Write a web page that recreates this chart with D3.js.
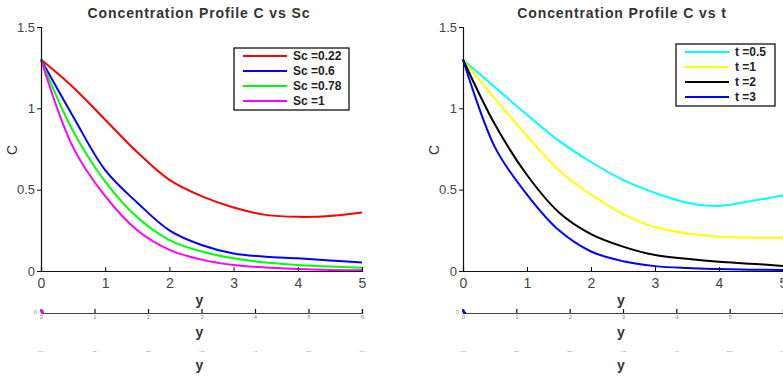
<!DOCTYPE html>
<html>
<head>
<meta charset="utf-8">
<script src="https://cdn.jsdelivr.net/npm/d3@7"></script>
<style>
  body { margin: 0; background: #fff; }
  svg text { font-family: "Liberation Sans", Arial, sans-serif; }
  .title { font-weight: bold; font-size: 14px; fill: #333; letter-spacing: 0.9px; }
  .tick-lbl { font-size: 13px; fill: #444; }
  .leg-text { font-size: 12px; font-weight: bold; fill: #222; }
  .axis-name { font-size: 14px; font-weight: bold; fill: #333; }
</style>
</head>
<body>
<div id="chart"></div>
<script>
// x positions where the curves were read
const yPos = [0, 0.5, 1, 1.5, 2, 2.5, 3, 3.5, 4, 4.5, 5];

// left panel, C vs y for different Sc
const scLabels = ['Sc =0.22', 'Sc =0.6', 'Sc =0.78', 'Sc =1'];
const scColors = ['#ff0000', '#0000ff', '#00ff00', '#ff00ff'];
const sc022 = [1.30, 1.13, 0.93, 0.73, 0.56, 0.46, 0.39, 0.345, 0.333, 0.338, 0.36];
const sc06  = [1.30, 0.95, 0.62, 0.42, 0.25, 0.16, 0.108, 0.088, 0.078, 0.065, 0.052];
const sc078 = [1.30, 0.86, 0.55, 0.33, 0.19, 0.12, 0.078, 0.052, 0.037, 0.027, 0.02];
const sc1   = [1.30, 0.76, 0.46, 0.25, 0.13, 0.07, 0.037, 0.022, 0.012, 0.006, 0.004];

// right panel, C vs y for different t
const tLabels = ['t =0.5', 't =1', 't =2', 't =3'];
const tColors = ['#00ffff', '#ffff00', '#000000', '#0000ff'];
const t05 = [1.30, 1.13, 0.96, 0.80, 0.67, 0.56, 0.48, 0.42, 0.40, 0.43, 0.465];
const t1  = [1.30, 1.06, 0.83, 0.62, 0.47, 0.35, 0.27, 0.23, 0.21, 0.205, 0.205];
const t2  = [1.30, 0.90, 0.59, 0.36, 0.227, 0.15, 0.098, 0.075, 0.057, 0.045, 0.031];
const t3  = [1.30, 0.76, 0.47, 0.25, 0.12, 0.06, 0.03, 0.018, 0.012, 0.008, 0.006];

const xTicks = [0, 1, 2, 3, 4, 5];
const yTicks = [0, 0.5, 1, 1.5];
const subTicks = [0, 1, 2, 3, 4, 5, 6];

const W = 783, H = 376;
const svg = d3.select('#chart').append('svg')
    .attr('width', W)
    .attr('height', H);

function drawPanel(p) {
    let g = svg.append('g');

    let x = d3.scaleLinear().domain([0, 5]).range([p.x0, p.x1]);
    let y = d3.scaleLinear().domain([0, 1.5]).range([271, 27]);

    // title
    g.append('text')
        .attr('class', 'title')
        .attr('x', p.titleX)
        .attr('y', 18)
        .attr('text-anchor', 'middle')
        .text(p.title);

    // curves
    let line = d3.line()
        .x((d, i) => x(yPos[i]))
        .y((d) => y(d))
        .curve(d3.curveCatmullRom.alpha(0.5));

    g.append('g')
        .selectAll('path')
        .data(p.series)
        .enter()
        .append('path')
        .attr('d', (d) => line(d))
        .attr('fill', 'none')
        .attr('stroke', (d, i) => p.colors[i])
        .attr('stroke-width', 2);

    // axes
    let xAxis = d3.axisBottom(x).tickValues(xTicks).tickSize(-4).tickPadding(7).tickFormat(d3.format('d'));
    let ax = g.append('g')
        .attr('transform', 'translate(0,271)')
        .call(xAxis);
    ax.select('.domain').attr('stroke', '#111').attr('stroke-width', 1.2);
    ax.selectAll('.tick line').attr('stroke', '#111');
    ax.selectAll('.tick text').attr('class', 'tick-lbl').style('font-size', '14px').attr('fill', '#444');

    let yAxis = d3.axisLeft(y).tickValues(yTicks).tickSize(4).tickPadding(2).tickFormat((d) => d);
    let ay = g.append('g')
        .attr('transform', 'translate(' + p.x0 + ',0)')
        .call(yAxis);
    ay.select('.domain').attr('stroke', '#111').attr('stroke-width', 1.2);
    ay.selectAll('.tick line').attr('stroke', '#111');
    ay.selectAll('.tick text').attr('class', 'tick-lbl').attr('fill', '#444');

    // axis names
    g.append('text')
        .attr('class', 'axis-name')
        .attr('x', (p.x0 + x(5)) / 2 - 2)
        .attr('y', 305)
        .attr('text-anchor', 'middle')
        .text('y');
    g.append('text')
        .attr('class', 'axis-name')
        .style('font-weight', 'normal')
        .attr('transform', 'translate(' + (p.x0 - 24) + ',150) rotate(-90)')
        .attr('text-anchor', 'middle')
        .text('C');

    // legend
    let leg = g.append('g');
    leg.append('rect')
        .attr('x', p.legX)
        .attr('y', p.legY)
        .attr('width', p.legW)
        .attr('height', 62)
        .attr('fill', '#fff')
        .attr('stroke', '#111')
        .attr('stroke-width', 1.3);
    for (let i = 0; i < p.labels.length; i++) {
        let ly = p.legY + 8 + i * 15;
        leg.append('line')
            .attr('x1', p.legX + 9)
            .attr('x2', p.legX + 53)
            .attr('y1', ly)
            .attr('y2', ly)
            .attr('stroke', p.colors[i])
            .attr('stroke-width', 2);
        leg.append('text')
            .attr('class', 'leg-text')
            .attr('x', p.legX + 59)
            .attr('y', ly + 4)
            .text(p.labels[i]);
    }

    // the squashed second axis under the plot
    let x2 = d3.scaleLinear().domain([0, 6]).range([p.x0, x(5)]);
    let sub = d3.axisBottom(x2).tickValues(subTicks).tickSize(-4).tickPadding(2).tickFormat(d3.format('d'));
    let as = g.append('g')
        .attr('transform', 'translate(0,313)')
        .call(sub);
    as.select('.domain').attr('stroke', '#444').attr('stroke-width', 1.2);
    as.selectAll('.tick line').attr('stroke', '#111').attr('stroke-width', 1.2);
    as.selectAll('.tick text').style('font-size', '6px').attr('fill', '#888');
    g.append('text')
        .attr('x', p.x0 - 4)
        .attr('y', 314)
        .attr('text-anchor', 'end')
        .style('font-size', '6px')
        .attr('fill', '#999')
        .text('0');

    // tiny collapsed copy of the curves at the origin
    let xs = d3.scaleLinear().domain([0, 5]).range([p.x0, p.x0 + 3]);
    let ys = d3.scaleLinear().domain([0, 1.5]).range([313, 309]);
    let tiny = d3.line().x((d, i) => xs(yPos[i])).y((d) => ys(d));
    g.append('g').selectAll('path')
        .data(p.series)
        .enter()
        .append('path')
        .attr('d', (d) => tiny(d))
        .attr('fill', 'none')
        .attr('stroke', (d, i) => p.colors[i])
        .attr('stroke-width', 2);

    g.append('text')
        .attr('class', 'axis-name')
        .attr('x', (p.x0 + x(5)) / 2 - 2)
        .attr('y', 337)
        .attr('text-anchor', 'middle')
        .text('y');

    // third, almost invisible row of labels
    let row3 = g.append('g').attr('transform', 'translate(0,352) scale(1,0.15)');
    row3.selectAll('text')
        .data(subTicks)
        .enter()
        .append('text')
        .attr('x', (d) => x2(d))
        .attr('y', 0)
        .attr('text-anchor', 'middle')
        .style('font-size', '12px')
        .attr('fill', '#aaa')
        .text((d) => d);

    g.append('text')
        .attr('class', 'axis-name')
        .attr('x', (p.x0 + x(5)) / 2 - 2)
        .attr('y', 370)
        .attr('text-anchor', 'middle')
        .text('y');
}

drawPanel({
    x0: 41, x1: 362, titleX: 199,
    title: 'Concentration Profile C vs Sc',
    series: [sc022, sc06, sc078, sc1],
    colors: scColors, labels: scLabels,
    legX: 234, legY: 48, legW: 115
});

drawPanel({
    x0: 463, x1: 783, titleX: 622,
    title: 'Concentration Profile C vs t',
    series: [t05, t1, t2, t3],
    colors: tColors, labels: tLabels,
    legX: 676, legY: 44, legW: 99
});
</script>
</body>
</html>
